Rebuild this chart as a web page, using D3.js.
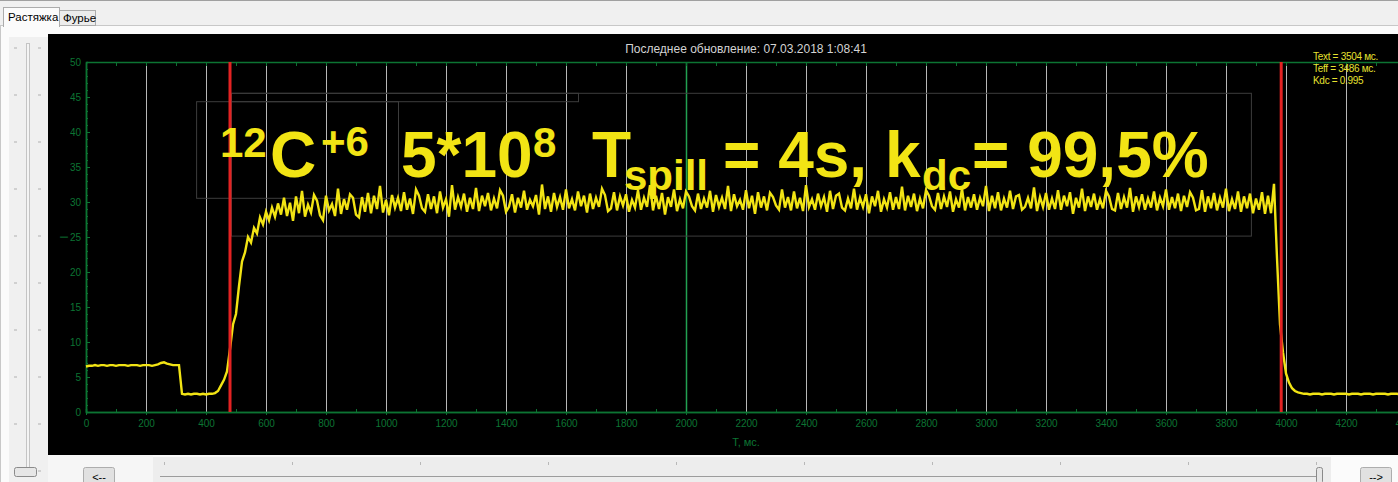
<!DOCTYPE html>
<html>
<head>
<meta charset="utf-8">
<script src="https://cdn.jsdelivr.net/npm/d3@7"></script>
<style>
  body { margin: 0; background: #f0f0f0; overflow: hidden; }
  svg { display: block; font-family: "Liberation Sans", Arial, sans-serif; }
</style>
</head>
<body>
<script>
// window size
const width = 1398;
const height = 482;

// tick values of the two axes
const xTickValues = [0, 200, 400, 600, 800, 1000, 1200, 1400, 1600, 1800, 2000, 2200,
  2400, 2600, 2800, 3000, 3200, 3400, 3600, 3800, 4000, 4200, 4400];
const xMinorTicks = [100, 300, 500, 700, 900, 1100, 1300, 1500, 1700, 1900, 2100, 2300,
  2500, 2700, 2900, 3100, 3300, 3500, 3700, 3900, 4100, 4300];
const yTickValues = [0, 5, 10, 15, 20, 25, 30, 35, 40, 45, 50];

// cursors: start / end of the spill, centre marker
const markerTimes = [480, 3984];
const centreTime = 2000;

// texts
const titleText = "Последнее обновление: 07.03.2018 1:08:41";
const xLabel = "Т, мс.";
const legendLines = ["Text = 3504 мс.", "Teff = 3486 мс.", "Kdc = 0.995"];
const tabNames = ["Растяжка", "Фурье"];

// beam current, one sample every 10 ms starting at 0 ms
const signalStep = 10;
const signal = [
  6.5, 6.6, 6.6, 6.7, 6.6, 6.7, 6.7, 6.6, 6.7, 6.7,
  6.6, 6.7, 6.7, 6.7, 6.6, 6.7, 6.7, 6.7, 6.6, 6.7,
  6.7, 6.7, 6.6, 6.7, 6.8, 7.0, 7.1, 6.9, 6.8, 6.7,
  6.7, 6.7,
  2.6, 2.5, 2.6, 2.5, 2.6, 2.6, 2.5, 2.6, 2.5, 2.6, 2.6, 2.7,
  3.0, 3.8, 4.6, 5.8, 9.0, 12.5, 14.0, 18.0, 21.5, 22.8,
  25.0, 24.2, 26.3, 25.5, 27.8, 26.8, 28.6, 27.4, 29.2, 27.9, 29.8,
  28.2, 30.6, 28.0, 29.9, 27.3, 30.8, 28.4, 31.6, 27.9, 29.6,
  28.5, 31.0, 30.2, 28.1, 27.4, 30.9, 28.8, 29.7, 28.0, 31.9,
  28.3, 30.4, 28.9, 31.1, 30.6, 28.2, 27.8, 30.7, 28.6, 31.3,
  28.4, 30.9, 29.0, 32.3, 28.5, 30.3, 28.1, 31.0, 29.2, 30.6,
  28.7, 31.4, 28.9, 30.5, 28.3, 31.8, 30.9, 29.1, 28.6, 31.1,
  29.0, 30.8, 28.4, 31.5, 29.2, 30.4, 27.9, 32.4, 28.9, 30.7,
  29.3, 31.2, 28.6, 30.6, 29.0, 32.0, 28.7, 30.9, 29.4, 31.3,
  28.8, 30.5, 29.1, 31.7, 30.9, 28.6, 29.3, 31.1, 28.5, 30.6,
  29.2, 31.6, 28.9, 30.3, 29.4, 31.0, 28.2, 32.5, 29.0, 30.8,
  28.6, 31.3, 29.3, 30.7, 28.9, 31.8, 29.1, 30.4, 28.8, 31.5,
  29.4, 30.9, 28.5, 31.2, 29.0, 30.6, 29.3, 31.9, 31.0, 28.7,
  29.1, 31.4, 28.8, 30.8, 29.5, 31.1, 28.6, 30.3, 29.2, 31.7,
  28.9, 30.6, 29.3, 32.4, 28.8, 30.9, 29.0, 31.3, 28.2, 30.7,
  29.3, 31.8, 28.7, 30.4, 29.1, 31.5, 30.8, 29.4, 28.8, 31.2,
  29.0, 30.5, 29.2, 31.6, 28.6, 31.0, 29.3, 30.6, 29.0, 32.3,
  28.7, 31.1, 29.4, 30.3, 28.9, 31.7, 29.1, 30.9, 28.3, 31.4,
  29.2, 30.8, 28.8, 31.3, 30.7, 29.5, 28.9, 31.8, 29.2, 30.7,
  28.8, 31.5, 29.1, 30.6, 28.7, 32.4, 29.3, 30.4, 28.9, 31.2,
  29.4, 30.7, 28.6, 31.6, 29.0, 30.9, 31.2, 29.2, 28.8, 30.5,
  29.1, 31.9, 28.9, 30.6, 29.3, 31.1, 28.4, 30.8, 29.4, 31.6,
  28.6, 30.4, 29.2, 31.4, 28.9, 30.7, 29.0, 32.2, 28.8, 30.9,
  29.3, 31.2, 28.7, 30.5, 29.1, 31.7, 30.9, 29.4, 28.9, 31.3,
  29.0, 30.8, 29.3, 31.5, 28.6, 30.4, 29.2, 31.9, 28.8, 30.7,
  29.2, 31.1, 28.9, 30.6, 29.4, 32.3, 28.7, 30.9, 29.1, 31.4,
  28.8, 30.5, 29.2, 31.6, 29.0, 30.8, 31.0, 28.9, 29.3, 30.6,
  29.1, 32.1, 28.7, 30.7, 29.3, 31.3, 28.9, 30.5, 29.0, 31.7,
  28.9, 30.9, 29.4, 31.4, 28.3, 30.6, 29.2, 31.9, 28.7, 30.8,
  29.3, 31.2, 28.9, 30.4, 29.1, 31.6, 30.8, 29.0, 28.8, 31.3,
  29.0, 30.7, 29.2, 32.0, 28.6, 30.8, 29.3, 31.1, 28.9, 30.5,
  29.2, 31.5, 28.8, 30.6, 29.4, 31.8, 28.9, 30.7, 29.1, 31.2,
  28.7, 30.9, 29.3, 31.4, 30.6, 28.8, 29.0, 31.7, 28.6, 30.8,
  29.1, 31.3, 28.8, 30.6, 29.2, 31.9, 28.7, 30.4, 29.0, 31.5,
  28.6, 30.8, 29.1, 31.2, 28.4, 30.5, 28.9, 31.4, 28.3, 30.9,
  28.4, 32.6, 22.0, 12.5, 8.5, 5.5, 4.2, 3.4, 3.0, 2.8, 2.7,
  2.6, 2.6, 2.5, 2.6, 2.6, 2.6, 2.5, 2.6, 2.6, 2.6,
  2.5, 2.6, 2.6, 2.6, 2.6, 2.5, 2.6, 2.6, 2.6, 2.5,
  2.6, 2.6, 2.6, 2.5, 2.6, 2.6, 2.6, 2.6, 2.5, 2.6,
  2.6, 2.6, 2.5, 2.6, 2.6
];

// colours
const green = "#0c7433";
const yellow = "#f2e414";

var svg = d3.select("body").append("svg")
  .attr("width", width)
  .attr("height", height);

// scales: the plot runs a little past the right edge of the window
var x = d3.scaleLinear().domain([0, 4400]).range([86, 1406]);
var y = d3.scaleLinear().domain([0, 50]).range([412, 62]);

/*
 window chrome: tabs, left slider, bottom buttons and scroll bar
*/
function drawWindow() {
  svg.append("rect").attr("width", width).attr("height", height).attr("fill", "#f0f0f0");
  svg.append("line").attr("x1", 0).attr("x2", width).attr("y1", 0.5).attr("y2", 0.5).attr("stroke", "#a0a0a0");

  // tab panel
  svg.append("rect").attr("x", 0.5).attr("y", 25.5).attr("width", width).attr("height", height)
    .attr("fill", "#fbfbfb").attr("stroke", "#c8c8c8");
  svg.append("rect").attr("x", 59.5).attr("y", 10.5).attr("width", 36).attr("height", 15)
    .attr("fill", "#ececec").attr("stroke", "#acacac");
  svg.append("rect").attr("x", 3.5).attr("y", 7.5).attr("width", 56).attr("height", 19)
    .attr("fill", "#fbfbfb").attr("stroke", "#acacac");
  svg.append("rect").attr("x", 4).attr("y", 25).attr("width", 55).attr("height", 3).attr("fill", "#fbfbfb");
  svg.append("text").attr("x", 8).attr("y", 21).attr("font-size", 11.5).text(tabNames[0]);
  svg.append("text").attr("x", 63).attr("y", 22).attr("font-size", 11.5).text(tabNames[1]);

  // left vertical slider
  svg.append("rect").attr("x", 9).attr("y", 37).attr("width", 39).attr("height", height - 37).attr("fill", "#f0f0f0");
  svg.append("rect").attr("x", 26.5).attr("y", 43.5).attr("width", 3).attr("height", 432)
    .attr("fill", "#f4f4f4").attr("stroke", "#c4c4c4");
  for (var i = 0; i < 10; i++) {
    var ty = 48 + 47 * i;
    svg.append("line").attr("x1", 14).attr("x2", 17).attr("y1", ty).attr("y2", ty).attr("stroke", "#b0b0b0");
    svg.append("line").attr("x1", 38).attr("x2", 41).attr("y1", ty).attr("y2", ty).attr("stroke", "#b0b0b0");
  }
  svg.append("rect").attr("x", 14.5).attr("y", 467.5).attr("width", 22).attr("height", 9).attr("rx", 2)
    .attr("fill", "#e6e6e6").attr("stroke", "#8a8a8a");

  // bottom scroll bar and buttons
  svg.append("rect").attr("x", 48).attr("y", 455).attr("width", 105).attr("height", 27).attr("fill", "#f6f6f6");
  svg.append("rect").attr("x", 153).attr("y", 457).attr("width", 1178).attr("height", 25).attr("fill", "#ededed");
  svg.append("line").attr("x1", 160).attr("x2", 1320).attr("y1", 476.5).attr("y2", 476.5).attr("stroke", "#9c9c9c");
  for (var k = 0; k < 10; k++) {
    var tx = 164 + 128 * k + 0.5;
    svg.append("line").attr("x1", tx).attr("x2", tx).attr("y1", 462).attr("y2", 465).attr("stroke", "#b8b8b8");
  }
  svg.append("rect").attr("x", 1316.5).attr("y", 467.5).attr("width", 6).attr("height", 16).attr("rx", 2)
    .attr("fill", "#e6e6e6").attr("stroke", "#8a8a8a");

  [[83, "<--"], [1360, "-->"]].forEach(function (b) {
    svg.append("rect").attr("x", b[0] + 0.5).attr("y", 467.5).attr("width", 31).attr("height", 18).attr("rx", 2)
      .attr("fill", "#e1e1e1").attr("stroke", "#adadad");
    svg.append("text").attr("x", b[0] + 16).attr("y", 481).attr("text-anchor", "middle")
      .attr("font-size", 11).text(b[1]);
  });
}

/*
 black chart area with axes, grid, cursors and the signal
*/
function drawChart() {
  svg.append("rect").attr("x", 48).attr("y", 34).attr("width", width - 48).attr("height", 421).attr("fill", "#000");

  svg.append("text").attr("x", x(2200)).attr("y", 53).attr("text-anchor", "middle")
    .attr("font-size", 12).attr("fill", "#d4d4d4").text(titleText);

  // vertical grid every 200 ms
  svg.append("g").selectAll("line")
    .data(xTickValues.filter(d => d > 0))
    .enter().append("line")
    .attr("x1", d => x(d) + 0.5).attr("x2", d => x(d) + 0.5)
    .attr("y1", y(50)).attr("y2", y(0))
    .attr("stroke", d => d === centreTime ? "#22a152" : "#b8b8b8")
    .attr("stroke-width", d => d === centreTime ? 1.5 : 1);

  // ghost boxes left over from the pasted caption
  var boxes = [[367, 1040, 30.6, 44.4], [483, 3883, 25.2, 45.6], [483, 1640, 44.4, 45.6]];
  svg.append("g").selectAll("rect")
    .data(boxes)
    .enter().append("rect")
    .attr("x", d => x(d[0]) + 0.5).attr("y", d => y(d[3]) + 0.5)
    .attr("width", d => x(d[1]) - x(d[0])).attr("height", d => y(d[2]) - y(d[3]))
    .attr("fill", "none").attr("stroke", "#3c3c3c");

  // axes
  svg.append("g").attr("transform", "translate(0," + y(0) + ")")
    .call(d3.axisBottom(x).tickValues(xTickValues).tickSize(3).tickSizeOuter(0).tickPadding(5)
      .tickFormat(d3.format("d")));
  svg.append("g").attr("transform", "translate(0," + y(0) + ")")
    .call(d3.axisBottom(x).tickValues(xMinorTicks).tickSize(-3).tickFormat(""));
  svg.append("g").attr("transform", "translate(0," + y(50) + ")")
    .call(d3.axisTop(x).tickValues(xTickValues.concat(xMinorTicks)).tickSize(-4).tickSizeOuter(0).tickFormat(""));
  svg.append("g").attr("transform", "translate(" + x(0) + ",0)")
    .call(d3.axisLeft(y).tickValues(yTickValues).tickSize(-4).tickSizeOuter(0).tickPadding(5));
  svg.append("g").attr("transform", "translate(" + x(0) + ",0)")
    .call(d3.axisLeft(y).tickValues(d3.range(1, 50).filter(v => v % 5)).tickSize(-2).tickFormat(""));

  svg.selectAll(".domain").attr("stroke", green).attr("stroke-width", 1.5);
  svg.selectAll(".tick line").attr("stroke", green);
  svg.selectAll(".tick text").attr("fill", green).attr("font-size", 10)
    .attr("font-family", "'Liberation Sans', Arial, sans-serif");

  svg.append("text").attr("x", x(2200)).attr("y", 446).attr("text-anchor", "middle")
    .attr("font-size", 11).attr("fill", green).text(xLabel);
  svg.append("text").attr("transform", "translate(68," + y(25) + ") rotate(-90)")
    .attr("text-anchor", "middle").attr("font-size", 10).attr("fill", green).text("I");

  // the signal
  var line = d3.line()
    .x((d, i) => x(i * signalStep))
    .y(d => y(d));
  svg.append("path")
    .datum(signal)
    .attr("d", line)
    .attr("fill", "none")
    .attr("stroke", yellow)
    .attr("stroke-width", 2.4)
    .attr("stroke-linejoin", "miter");

  // red cursors
  svg.append("g").selectAll("line")
    .data(markerTimes)
    .enter().append("line")
    .attr("x1", d => x(d)).attr("x2", d => x(d))
    .attr("y1", y(50)).attr("y2", y(0))
    .attr("stroke", "#e32222").attr("stroke-width", 3);

  // results in the corner
  svg.append("g").selectAll("text")
    .data(legendLines)
    .enter().append("text")
    .attr("x", 1313).attr("y", (d, i) => 60 + i * 12)
    .attr("font-size", 10).attr("letter-spacing", -0.3)
    .attr("fill", "#e6e230").text(d => d);
}

/*
 big yellow caption pasted over the plot
*/
function drawCaption() {
  var parts = [
    {t: "12", x: 220, y: 157, s: 42},
    {t: "C", x: 270, y: 177, s: 64},
    {t: "+6", x: 321, y: 156, s: 42},
    {t: "5*10", x: 401, y: 177, s: 64},
    {t: "8", x: 533, y: 157, s: 42},
    {t: "T", x: 592, y: 177, s: 64},
    {t: "spill", x: 624, y: 190, s: 42},
    {t: "= 4s, k", x: 723, y: 177, s: 64},
    {t: "dc", x: 922, y: 190, s: 42},
    {t: "= 99,5%", x: 972, y: 177, s: 64}
  ];
  var cap = svg.append("text").attr("font-weight", "bold").attr("fill", yellow);
  cap.selectAll("tspan")
    .data(parts)
    .enter().append("tspan")
    .attr("x", d => d.x).attr("y", d => d.y)
    .attr("font-size", d => d.s)
    .text(d => d.t);
}

window.addEventListener("load", function () {
  drawWindow();
  drawChart();
  drawCaption();
});
</script>
</body>
</html>
